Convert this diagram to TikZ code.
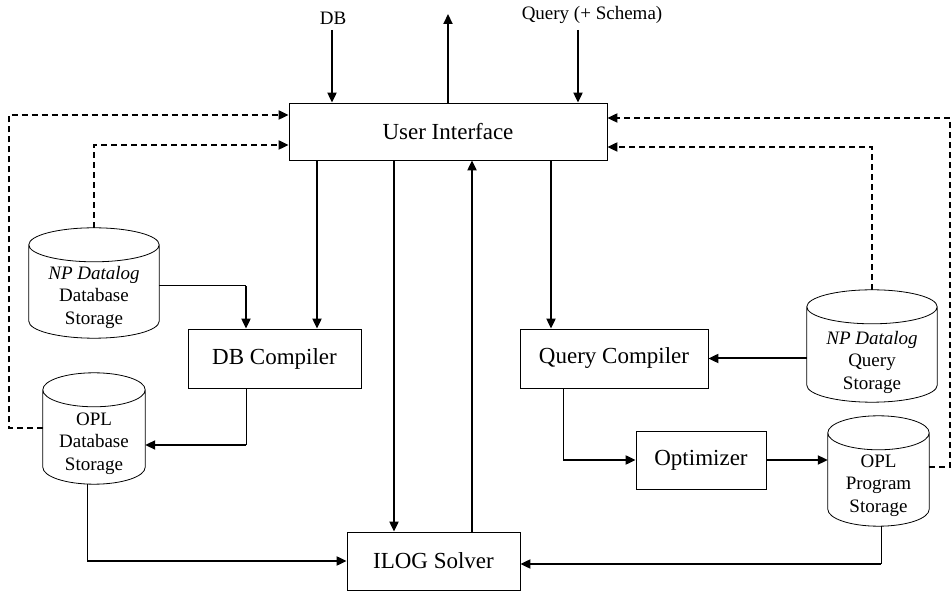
\documentclass[tikz,border=0pt]{standalone}
\usepackage{fontspec}
\setmainfont{Liberation Serif}
\usetikzlibrary{arrows.meta,calc}
\tikzset{
  box/.style={draw, line width=0.8pt, inner sep=0pt, font=\fontsize{23}{27}\selectfont},
  cylbox/.style={inner sep=0pt},
  cyltext/.style={align=center, inner sep=0pt, font=\fontsize{19}{22.5}\selectfont},
  lbl/.style={inner sep=0pt, font=\fontsize{19}{22}\selectfont},
  arr/.style={line width=2pt, -{Triangle[length=10pt,width=9pt]}},
  thinseg/.style={line width=1pt},
  dsh/.style={line width=2pt, dash pattern=on 6pt off 4pt, -{Triangle[length=10pt,width=9pt]}}
}
\newcommand\drawcyl[2]{%
  \draw[line width=0.8pt] let \p1=(#1.north west), \p2=(#1.south east),
    \n1={(\x2-\x1)/2}, \n2={#2pt} in
    (\x1,\y1-\n2) -- (\x1,\y2+\n2)
    arc[start angle=180,end angle=360,x radius=\n1,y radius=\n2]
    -- (\x2,\y1-\n2)
    arc[start angle=0,end angle=360,x radius=\n1,y radius=\n2];
}
\begin{document}
\begin{tikzpicture}[x=1pt,y=1pt]
\useasboundingbox (0,0) rectangle (952,591);

% boxes
\node[box, minimum width=318, minimum height=57] (ui) at (448,459.5) {User Interface};
\node[box, minimum width=173, minimum height=59] (dbc) at (274.5,232.5) {DB Compiler};
\node[box, minimum width=188, minimum height=59] (qc) at (614,232.5) {Query Compiler};
\node[box, minimum width=130, minimum height=58] (opt) at (701,131) {Optimizer};
\node[box, minimum width=173, minimum height=58] (ilog) at (433.5,30) {ILOG Solver};

% cylinders
\node[cylbox, minimum width=130, minimum height=110] (ndb) at (94,308) {};
\node[cylbox, minimum width=102, minimum height=111] (odb) at (94,162.5) {};
\node[cylbox, minimum width=130, minimum height=112] (nq) at (872,245) {};
\node[cylbox, minimum width=101, minimum height=110] (op) at (878.5,120) {};
\drawcyl{ndb}{17}
\drawcyl{odb}{17}
\drawcyl{nq}{17}
\drawcyl{op}{17}
\node[cyltext] (ndbt) at ([yshift=-14pt]ndb.center) {\textit{NP Datalog}\\Database\\Storage};
\node[cyltext] (odbt) at ([yshift=-15pt]odb.center) {OPL\\Database\\Storage};
\node[cyltext] (nqt) at ([yshift=-16pt]nq.center) {\textit{NP Datalog}\\Query\\Storage};
\node[cyltext] (opt2) at ([yshift=-14.5pt]op.center) {OPL\\Program\\Storage};

% top labels and arrows
\node[lbl] (dbl) at (333,573) {DB};
\node[lbl] (ql) at (592,576) {Query (+ Schema)};
\coordinate (dbin) at (332,561);
\coordinate (qin) at (578,561);
\coordinate (out) at (448,577);
\draw[arr] (dbin) -- (ui.north -| dbin);
\draw[arr] (qin) -- (ui.north -| qin);
\draw[arr] (ui.north -| out) -- (out);

% vertical connectors from/to UI
\coordinate (v1) at (317,0);
\coordinate (v2) at (394,0);
\coordinate (v3) at (472,0);
\coordinate (v4) at (551,0);
\draw[arr] (ui.south -| v1) -- (dbc.north -| v1);
\draw[arr] (ui.south -| v2) -- (ilog.north -| v2);
\draw[arr] (ilog.north -| v3) -- (ui.south -| v3);
\draw[arr] (ui.south -| v4) -- (qc.north -| v4);

% NP DB -> DB compiler
\coordinate (e1) at (246,305);
\draw[thinseg] (ndb.east |- e1) -- (e1);
\draw[arr] (e1) -- (dbc.north -| e1);
% DB compiler -> OPL DB
\coordinate (e2) at (246,146);
\draw[thinseg] (dbc.south -| e2) -- (e2);
\draw[arr] (e2) -- (odb.east |- e2);
% OPL DB -> ILOG
\coordinate (e3) at (87,30);
\draw[thinseg] (odb.south -| e3) -- (e3);
\draw[arr] (e3) -- (ilog.west);
% NP Query -> Query compiler
\draw[arr] (nq.west |- qc.east) -- (qc.east);
% Query compiler -> Optimizer
\coordinate (e4) at (563,131);
\draw[thinseg] (qc.south -| e4) -- (e4);
\draw[arr] (e4) -- (opt.west);
% Optimizer -> OPL program
\draw[arr] (opt.east) -- (op.west |- opt.east);
% OPL program -> ILOG
\coordinate (e5) at (881,27);
\draw[thinseg] (op.south -| e5) -- (e5);
\draw[arr] (e5) -- (ilog.east |- e5);

% dashed feedback lines
\coordinate (lo1) at (9,162.5);
\coordinate (lo2) at (9,476);
\draw[dsh] (odb.west) -- (lo1) -- (lo2) -- (ui.west |- lo2);
\coordinate (li1) at (94,446);
\draw[dsh] (ndb.north) -- (li1) -- (ui.west |- li1);
\coordinate (ro1) at (950,124);
\coordinate (ro2) at (950,473);
\draw[dsh] (op.east |- ro1) -- (ro1) -- (ro2) -- (ui.east |- ro2);
\coordinate (ri1) at (872,444);
\draw[dsh] (nq.north) -- (ri1) -- (ui.east |- ri1);
\end{tikzpicture}
\end{document}
